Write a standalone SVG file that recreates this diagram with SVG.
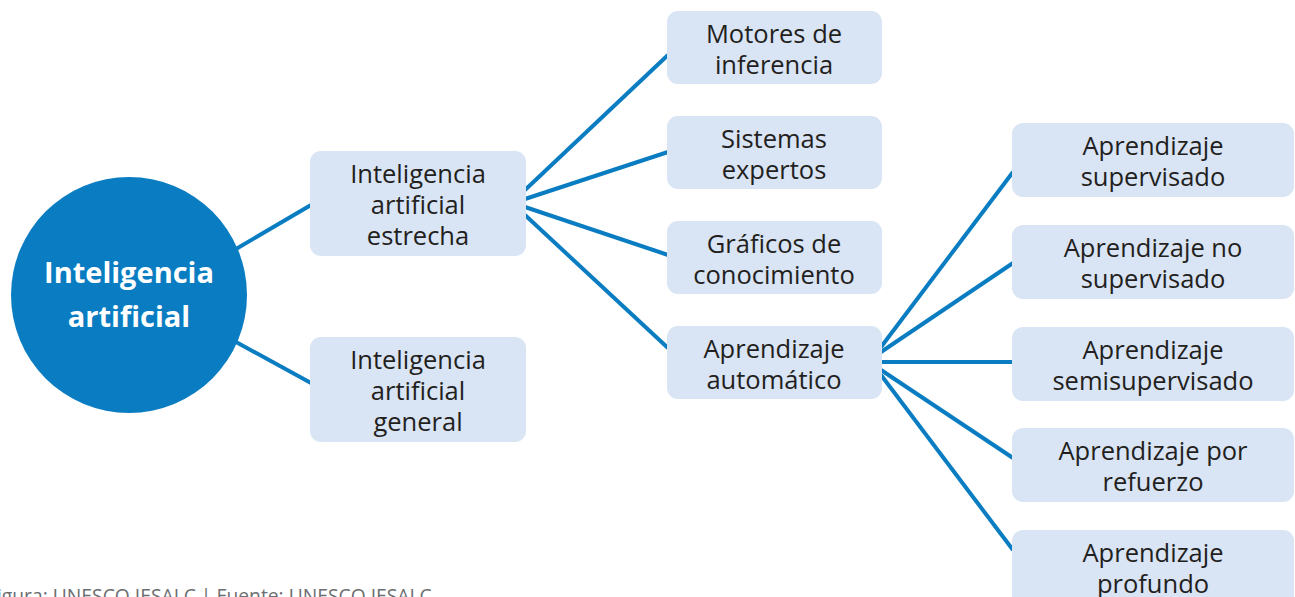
<svg xmlns="http://www.w3.org/2000/svg" width="1295" height="597" viewBox="0 0 1295 597">
<style>
.box{fill:#d9e4f4}
.t{font-family:"Open Sans","Noto Sans","Liberation Sans",sans-serif;font-size:25.5px;fill:#231f20;text-anchor:middle}
.tw{font-family:"Open Sans","Noto Sans","Liberation Sans",sans-serif;font-size:29px;font-weight:bold;fill:#ffffff;text-anchor:middle}
.c{stroke:#0a7dc2;stroke-width:4;fill:none;stroke-linecap:butt}
.src{font-family:"Open Sans","Noto Sans","Liberation Sans",sans-serif;font-size:19.3px;fill:#6d6e71}
</style>
<rect width="1295" height="597" fill="#ffffff"/>
<g id="connectors">
<line class="c" x1="236" y1="249" x2="311" y2="205"/>
<line class="c" x1="236" y1="342" x2="311" y2="383"/>
<line class="c" x1="525" y1="190" x2="668" y2="55"/>
<line class="c" x1="525" y1="199" x2="668" y2="152"/>
<line class="c" x1="525" y1="207" x2="668" y2="255"/>
<line class="c" x1="525" y1="215" x2="668" y2="348"/>
<line class="c" x1="881" y1="347" x2="1013" y2="172"/>
<line class="c" x1="881" y1="352" x2="1013" y2="263"/>
<line class="c" x1="881" y1="362" x2="1013" y2="362"/>
<line class="c" x1="881" y1="370" x2="1013" y2="458"/>
<line class="c" x1="881" y1="375" x2="1013" y2="550"/>
</g>
<g id="n-ia">
<circle cx="129" cy="295" r="118" fill="#0a7dc2"/>
<text class="tw" x="129" y="283">Inteligencia</text>
<text class="tw" x="129" y="327">artificial</text>
</g>
<g id="n-estrecha">
<rect class="box" x="310" y="151" width="216" height="105" rx="11"/>
<text class="t" x="418" y="183">Inteligencia</text>
<text class="t" x="418" y="214">artificial</text>
<text class="t" x="418" y="245">estrecha</text>
</g>
<g id="n-general">
<rect class="box" x="310" y="337" width="216" height="105" rx="11"/>
<text class="t" x="418" y="369">Inteligencia</text>
<text class="t" x="418" y="400">artificial</text>
<text class="t" x="418" y="431">general</text>
</g>
<g id="n-motores">
<rect class="box" x="667" y="11" width="215" height="73" rx="11"/>
<text class="t" x="774" y="43">Motores de</text>
<text class="t" x="774" y="74">inferencia</text>
</g>
<g id="n-sistemas">
<rect class="box" x="667" y="116" width="215" height="73" rx="11"/>
<text class="t" x="774" y="148">Sistemas</text>
<text class="t" x="774" y="179">expertos</text>
</g>
<g id="n-graficos">
<rect class="box" x="667" y="221" width="215" height="73" rx="11"/>
<text class="t" x="774" y="253">Gráficos de</text>
<text class="t" x="774" y="284">conocimiento</text>
</g>
<g id="n-automatico">
<rect class="box" x="667" y="326" width="215" height="73" rx="11"/>
<text class="t" x="774" y="358">Aprendizaje</text>
<text class="t" x="774" y="389">automático</text>
</g>
<g id="n-supervisado">
<rect class="box" x="1012" y="123" width="282" height="74" rx="11"/>
<text class="t" x="1153" y="155">Aprendizaje</text>
<text class="t" x="1153" y="186">supervisado</text>
</g>
<g id="n-nosupervisado">
<rect class="box" x="1012" y="225" width="282" height="74" rx="11"/>
<text class="t" x="1153" y="257">Aprendizaje no</text>
<text class="t" x="1153" y="288">supervisado</text>
</g>
<g id="n-semi">
<rect class="box" x="1012" y="327" width="282" height="74" rx="11"/>
<text class="t" x="1153" y="359">Aprendizaje</text>
<text class="t" x="1153" y="390">semisupervisado</text>
</g>
<g id="n-refuerzo">
<rect class="box" x="1012" y="428" width="282" height="74" rx="11"/>
<text class="t" x="1153" y="460">Aprendizaje por</text>
<text class="t" x="1153" y="491">refuerzo</text>
</g>
<g id="n-profundo">
<rect class="box" x="1012" y="530" width="282" height="80" rx="11"/>
<text class="t" x="1153" y="562">Aprendizaje</text>
<text class="t" x="1153" y="593">profundo</text>
</g>
<text class="src" x="-13" y="603">Figura: UNESCO IESALC | Fuente: UNESCO IESALC</text>
</svg>
